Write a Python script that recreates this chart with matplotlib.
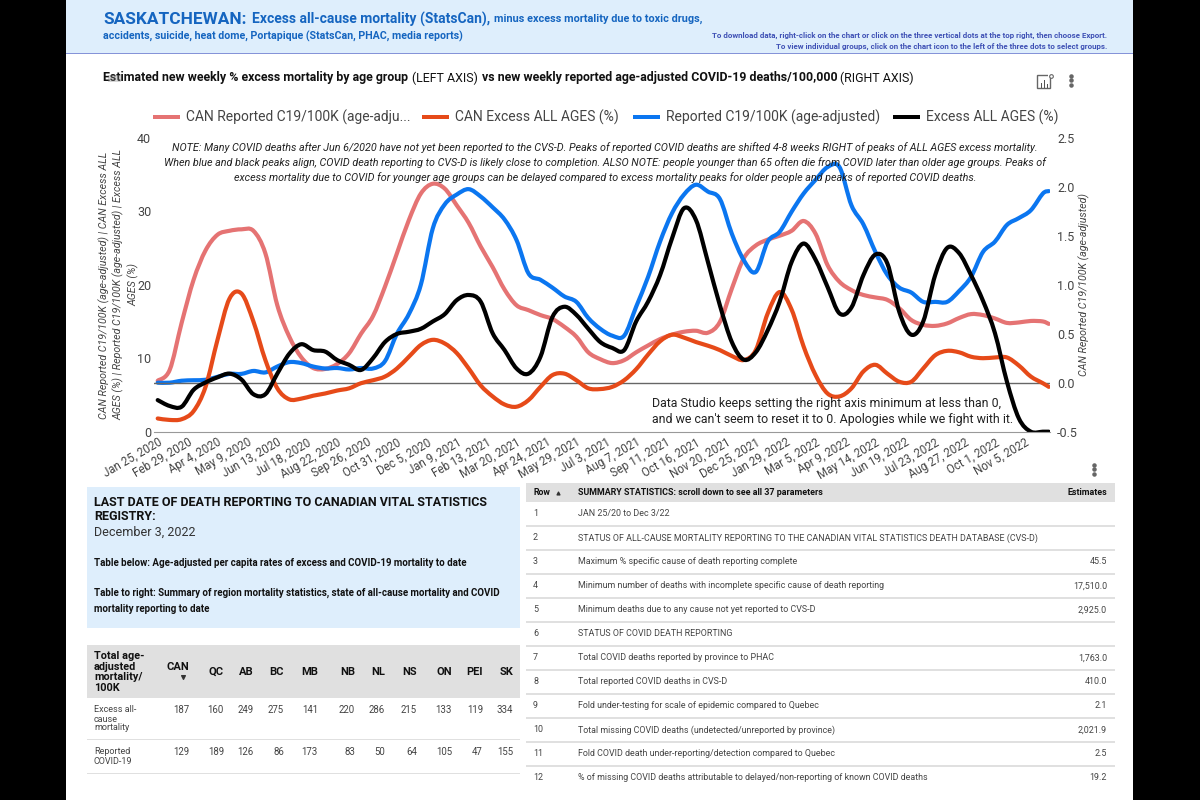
import matplotlib
matplotlib.use('Agg')
import matplotlib.pyplot as plt
from matplotlib.patches import Rectangle, PathPatch
from matplotlib.path import Path

plt.rcParams['font.family'] = ['Roboto', 'DejaVu Sans']

# weeks since Jan 25, 2020
weeks = list(range(0, 149, 2)) + [149]

# right axis
can_reported = [0.02, 0.13, 0.61, 1.05, 1.35, 1.51, 1.55, 1.565, 1.55, 1.32, 0.79, 0.47, 0.26, 0.15, 0.14, 0.19, 0.30, 0.50, 0.68,
                0.98, 1.32, 1.66, 1.93, 2.03, 1.98, 1.81, 1.63, 1.39, 1.18, 0.95, 0.79, 0.74, 0.69, 0.65, 0.57, 0.47, 0.31,
                0.24, 0.20, 0.23, 0.31, 0.38, 0.445, 0.49, 0.52, 0.53, 0.51, 0.62, 0.96, 1.27, 1.40, 1.46, 1.50, 1.55, 1.65,
                1.52, 1.20, 1.03, 0.945, 0.895, 0.87, 0.845, 0.76, 0.64, 0.59, 0.58, 0.605, 0.66, 0.70, 0.69, 0.655, 0.61,
                0.615, 0.63, 0.625, 0.60]
reported = [0.0, 0.0, 0.02, 0.025, 0.03, 0.06, 0.09, 0.09, 0.12, 0.105, 0.165, 0.21, 0.20, 0.165, 0.145, 0.15, 0.135, 0.15, 0.145,
            0.22, 0.50, 0.70, 1.0, 1.575, 1.82, 1.92, 1.975, 1.90, 1.79, 1.665, 1.455, 1.115, 1.05, 0.97, 0.88, 0.825, 0.66,
            0.55, 0.48, 0.48, 0.775, 1.08, 1.44, 1.73, 1.92, 2.02, 1.95, 1.875, 1.52, 1.25, 1.13, 1.44, 1.54, 1.745, 1.93,
            2.07, 2.20, 2.20, 1.81, 1.615, 1.335, 1.10, 0.97, 0.92, 0.825, 0.825, 0.825, 0.935, 1.08, 1.335, 1.44, 1.61,
            1.68, 1.76, 1.93, 1.955]
# left axis
can_excess = [1.8, 1.6, 1.7, 2.8, 6.1, 12.5, 18.1, 18.8, 15.0, 9.75, 5.9, 4.4, 4.5, 4.9, 5.2, 5.6, 5.9, 6.6, 7.0,
              7.5, 8.6, 10.2, 11.8, 12.5, 12.0, 10.7, 8.6, 6.3, 4.8, 3.7, 3.4, 4.3, 6.1, 7.7, 7.9, 7.0, 5.9,
              5.8, 6.1, 7.0, 8.5, 10.5, 12.3, 13.2, 12.8, 12.2, 11.7, 11.1, 10.3, 9.75, 11.1, 16.1, 19.0, 16.6, 11.6,
              7.7, 5.2, 4.8, 5.9, 8.2, 9.1, 7.9, 6.8, 6.8, 8.6, 10.4, 11.0, 10.8, 10.2, 10.0, 10.1, 10.1,
              9.0, 7.5, 6.6, 6.1]
excess = [4.3, 3.5, 3.4, 5.7, 6.7, 7.4, 7.9, 7.1, 5.1, 5.1, 7.9, 10.6, 11.9, 11.1, 10.9, 9.75, 9.1, 8.4, 10.0,
          12.2, 13.3, 13.6, 14.0, 15.0, 16.0, 17.9, 18.6, 17.7, 13.4, 11.1, 8.6, 7.9, 10.2, 15.6, 17.0, 15.9, 14.0,
          12.2, 11.4, 11.1, 15.0, 17.7, 21.3, 26.3, 30.4, 28.8, 23.1, 17.2, 12.2, 9.8, 10.8, 13.8, 17.7, 23.1, 25.6,
          23.4, 19.7, 16.1, 16.9, 21.3, 24.1, 22.9, 16.3, 13.2, 15.0, 21.3, 25.0, 24.3, 21.3, 17.8, 13.4, 6.8,
          1.8, 0, 0, 0]

tick_weeks = list(range(0, 146, 5))
tick_labels = ['Jan 25, 2020', 'Feb 29, 2020', 'Apr 4, 2020', 'May 9, 2020', 'Jun 13, 2020', 'Jul 18, 2020', 'Aug 22, 2020',
               'Sep 26, 2020', 'Oct 31, 2020', 'Dec 5, 2020', 'Jan 9, 2021', 'Feb 13, 2021', 'Mar 20, 2021', 'Apr 24, 2021',
               'May 29, 2021', 'Jul 3, 2021', 'Aug 7, 2021', 'Sep 11, 2021', 'Oct 16, 2021', 'Nov 20, 2021', 'Dec 25, 2021',
               'Jan 29, 2022', 'Mar 5, 2022', 'Apr 9, 2022', 'May 14, 2022', 'Jun 19, 2022', 'Jul 23, 2022', 'Aug 27, 2022',
               'Oct 1, 2022', 'Nov 5, 2022']

provinces = ['CAN', 'QC', 'AB', 'BC', 'MB', 'NB', 'NL', 'NS', 'ON', 'PEI', 'SK']
excess_rates = [187, 160, 249, 275, 141, 220, 286, 215, 133, 119, 334]
covid_rates = [129, 189, 126, 86, 173, 83, 50, 64, 105, 47, 155]

summary_rows = ['JAN 25/20 to Dec 3/22',
                'STATUS OF ALL-CAUSE MORTALITY REPORTING TO THE CANADIAN VITAL STATISTICS DEATH DATABASE (CVS-D)',
                'Maximum % specific cause of death reporting complete',
                'Minimum number of deaths with incomplete specific cause of death reporting',
                'Minimum deaths due to any cause not yet reported to CVS-D',
                'STATUS OF COVID DEATH REPORTING',
                'Total COVID deaths reported by province to PHAC',
                'Total reported COVID deaths in CVS-D',
                'Fold under-testing for scale of epidemic compared to Quebec',
                'Total missing COVID deaths (undetected/unreported by province)',
                'Fold COVID death under-reporting/detection compared to Quebec',
                '% of missing COVID deaths attributable to delayed/non-reporting of known COVID deaths']
summary_vals = ['', '', '45.5', '17,510.0', '2,925.0', '', '1,763.0', '410.0', '2.1', '2,021.9', '2.5', '19.2']

PINK = '#e57373'
ORANGE = '#e64a19'
BLUE = '#0b76f0'
HEAD = '#1565c0'
BOX = '#deeefc'
GREY = '#e0e0e0'
TXT = '#444444'

fig = plt.figure(figsize=(12, 8), dpi=100)
# whole page in pixel coordinates
bg = fig.add_axes([0, 0, 1, 1])
bg.set_xlim(0, 1200)
bg.set_ylim(800, 0)
bg.axis('off')


def rect(x0, y0, x1, y1, c, z=1):
    bg.add_patch(Rectangle((x0, y0), x1 - x0, y1 - y0, color=c, lw=0, zorder=z))


def txt(x, y, s, size=8, weight='normal', color='#222222', ha='left', **kw):
    return bg.text(x, y, s, fontsize=size, fontweight=weight, color=color, ha=ha, va='center', **kw)


def runs(x, y, parts, color):
    # several styles on one line, each part starts gap px after the last one stopped
    r = fig.canvas.get_renderer()
    for s, size, weight, gap in parts:
        t = txt(x, y, s, size, weight, color)
        x += t.get_window_extent(r).width + gap


def smooth_line(a, xs, ys, c):
    # the chart uses smoothed lines, so go through the values with bezier pieces
    n = len(xs)
    verts = [(xs[0], ys[0])]
    codes = [Path.MOVETO]
    for i in range(n - 1):
        p = max(i - 1, 0)
        q = min(i + 2, n - 1)
        verts.append((xs[i] + (xs[i + 1] - xs[p]) / 6, ys[i] + (ys[i + 1] - ys[p]) / 6))
        verts.append((xs[i + 1] - (xs[q] - xs[i]) / 6, ys[i + 1] - (ys[q] - ys[i]) / 6))
        verts.append((xs[i + 1], ys[i + 1]))
        codes += [Path.CURVE4, Path.CURVE4, Path.CURVE4]
    a.add_patch(PathPatch(Path(verts, codes), fill=False, ec=c, lw=3, joinstyle='round', capstyle='round'))


rect(0, 0, 66, 800, 'black')
rect(1133, 0, 1200, 800, 'black')

# header
rect(66, 0, 1133, 53, BOX)
rect(66, 52.5, 1133, 54, '#8593d8')
runs(103, 19, [('SASKATCHEWAN:', 12.4, 'bold', 6),
               ('Excess all-cause mortality (StatsCan),', 10, 'bold', 3),
               ('minus excess mortality due to toxic drugs,', 7.8, 'bold', 0)], HEAD)
txt(103, 36, 'accidents, suicide, heat dome, Portapique (StatsCan, PHAC, media reports)', 7.7, 'bold', HEAD)
txt(1107, 35, 'To download data, right-click on the chart or click on the three vertical dots at the top right, then choose Export.',
    5.7, 'bold', '#3f51b5', ha='right')
txt(1107, 46, 'To view individual groups, click on the chart icon to the left of the three dots to select groups.',
    5.7, 'bold', '#3f51b5', ha='right')

# chart title
runs(103, 78, [('Estimated new weekly % excess mortality by age group', 8.95, 'bold', 4),
               ('(LEFT AXIS)', 8.95, 'normal', 4),
               ('vs new weekly reported age-adjusted COVID-19 deaths/100,000', 8.95, 'bold', 3),
               ('(RIGHT AXIS)', 8.95, 'normal', 0)], '#111111')
bg.add_patch(Rectangle((108, 75), 13, 7, color='#888888', alpha=0.35, lw=0, zorder=5))

# chart icon and menu dots
bg.add_patch(Rectangle((1037, 75), 13, 13, fill=False, ec='#666666', lw=1))
rect(1048, 73, 1052, 77, 'white')
for dx, h in [(1040.5, 5), (1043.5, 8), (1046.5, 4)]:
    rect(dx, 88 - h, dx + 1.3, 88, '#555555')
bg.scatter([1051], [76], s=7, facecolor='white', edgecolor='#666666', lw=0.8)
bg.scatter([1071, 1071, 1071], [75.5, 80, 84.5], s=5, color='#666666')
bg.scatter([1094, 1094, 1094], [464.5, 469, 473.5], s=5, color='#666666')

# legend
for x0, c, s in [(153, PINK, 'CAN Reported C19/100K (age-adju...'), (422, ORANGE, 'CAN Excess ALL AGES (%)'),
                 (633, BLUE, 'Reported C19/100K (age-adjusted)'), (893, 'black', 'Excess ALL AGES (%)')]:
    rect(x0, 115, x0 + 27, 119, c)
    txt(x0 + 33, 117, s, 10, 'normal', TXT)

# main chart, axes sit on the plot area in pixels
L, R, T, B = 154, 1050, 137.7, 431.7
ax = fig.add_axes([L / 1200, 1 - B / 800, (R - L) / 1200, (B - T) / 800])
ax2 = ax.twinx()
ax.set_zorder(ax2.get_zorder() + 1)
ax.patch.set_visible(False)
ax2.patch.set_visible(False)
ax.set_xlim(-0.62, 149.2)
ax.set_ylim(0, 40)
ax2.set_ylim(-0.5, 2.5)

smooth_line(ax2, weeks, can_reported, PINK)
smooth_line(ax2, weeks, reported, BLUE)
ax2.axhline(0, color='#666666', lw=1, zorder=1)
smooth_line(ax, weeks, can_excess, ORANGE)
smooth_line(ax, weeks, excess, 'black')

for a in (ax, ax2):
    for sp in a.spines.values():
        sp.set_visible(False)
    a.tick_params(length=0, labelsize=9, labelcolor=TXT)
ax.spines['bottom'].set_visible(True)
ax.spines['bottom'].set_color('#999999')
ax.set_yticks([0, 10, 20, 30, 40])
ax2.set_yticks([-0.5, 0, 0.5, 1, 1.5, 2, 2.5])
ax2.set_yticklabels(['-0.5', '0.0', '0.5', '1.0', '1.5', '2.0', '2.5'])
ax.tick_params(axis='y', pad=2)
ax2.tick_params(axis='y', pad=5)
ax.set_xticks(tick_weeks)
ax.set_xticklabels(tick_labels, rotation=30, ha='right', rotation_mode='anchor', fontsize=8.3, color=TXT)
ax.tick_params(axis='x', pad=3)

# axis titles and notes go above the lines
top = fig.add_axes([0, 0, 1, 1], zorder=10)
top.set_xlim(0, 1200)
top.set_ylim(800, 0)
top.axis('off')
top.patch.set_visible(False)
top.text(119, 285, 'CAN Reported C19/100K (age-adjusted) | CAN Excess ALL\nAGES (%) | Reported C19/100K (age-adjusted) | Excess ALL\nAGES (%)',
         rotation=90, ha='center', va='center', multialignment='center', fontsize=7.7, style='italic', color=TXT, linespacing=1.35)
top.text(1084, 284, 'CAN Reported C19/100K (age-adjusted)', rotation=90, ha='center', va='center', fontsize=7.7, style='italic', color=TXT)
for y, s in [(148, 'NOTE: Many COVID deaths after Jun 6/2020 have not yet been reported to the CVS-D. Peaks of reported COVID deaths are shifted 4-8 weeks RIGHT of peaks of ALL AGES excess mortality.'),
             (163, 'When blue and black peaks align, COVID death reporting to CVS-D is likely close to completion. ALSO NOTE: people younger than 65 often die from COVID later than older age groups. Peaks of'),
             (178, 'excess mortality due to COVID for younger age groups can be delayed compared to excess mortality peaks for older people and peaks of reported COVID deaths.')]:
    top.text(605, y, s, ha='center', va='center', fontsize=7.75, style='italic', color='#222222')
top.text(652, 404, 'Data Studio keeps setting the right axis minimum at less than 0,', va='center', fontsize=8.9, color='#222222')
top.text(652, 419, "and we can't seem to reset it to 0. Apologies while we fight with it.", va='center', fontsize=8.9, color='#222222')

# info box
rect(87, 487, 520, 628, BOX)
txt(94, 502, 'LAST DATE OF DEATH REPORTING TO CANADIAN VITAL STATISTICS', 9, 'bold', '#111111')
txt(94, 517, 'REGISTRY:', 9, 'bold', '#111111')
txt(94, 532, 'December 3, 2022', 9, 'normal', '#333333')
txt(94, 563, 'Table below: Age-adjusted per capita rates of excess and COVID-19 mortality to date', 7, 'bold', '#111111')
txt(94, 593, 'Table to right: Summary of region mortality statistics, state of all-cause mortality and COVID', 7, 'bold', '#111111')
txt(94, 609, 'mortality reporting to date', 7, 'bold', '#111111')

# province table
rect(87, 645, 520, 698, GREY)
col_right = [189, 224, 254, 284, 318, 355, 385, 417, 452, 483, 513]
for y, s in zip([656, 667, 677, 688], ['Total age-', 'adjusted', 'mortality/', '100K']):
    txt(94, y, s, 7.8, 'bold', '#111111')
for x, p, a, b in zip(col_right, provinces, excess_rates, covid_rates):
    txt(x, 667 if p == 'CAN' else 672, p, 8, 'bold', '#111111', ha='right')
    txt(x, 710, str(a), 6.9, 'normal', TXT, ha='right')
    txt(x, 752, str(b), 6.9, 'normal', TXT, ha='right')
bg.scatter([182.5], [677], marker='v', s=7, color='#333333')
for y, s in zip([710, 719, 728], ['Excess all-', 'cause', 'mortality']):
    txt(94, y, s, 6.5, 'normal', TXT)
for y, s in zip([752, 761], ['Reported', 'COVID-19']):
    txt(94, y, s, 6.5, 'normal', TXT)
rect(87, 738.5, 520, 739.5, GREY)
rect(87, 772.5, 520, 773.5, GREY)

# summary table
rect(526, 483, 1115, 502, GREY)
txt(533, 492.5, 'Row', 6.4, 'bold', '#111111')
bg.scatter([558], [493], marker='^', s=4, color='#333333')
txt(578, 492.5, 'SUMMARY STATISTICS: scroll down to see all 37 parameters', 6.4, 'bold', '#111111')
txt(1107, 492.5, 'Estimates', 6.4, 'bold', '#111111', ha='right')
for i, (s, v) in enumerate(zip(summary_rows, summary_vals)):
    y = 514 + 24 * i
    txt(533, y, str(i + 1), 6.4, 'normal', TXT)
    txt(578, y, s, 6.4, 'normal', TXT)
    txt(1107, y, v, 6.4, 'normal', TXT, ha='right')
    if i < 11:
        rect(526, y + 11.4, 1115, y + 12.6, GREY)

fig.savefig('out.png', dpi=100)
